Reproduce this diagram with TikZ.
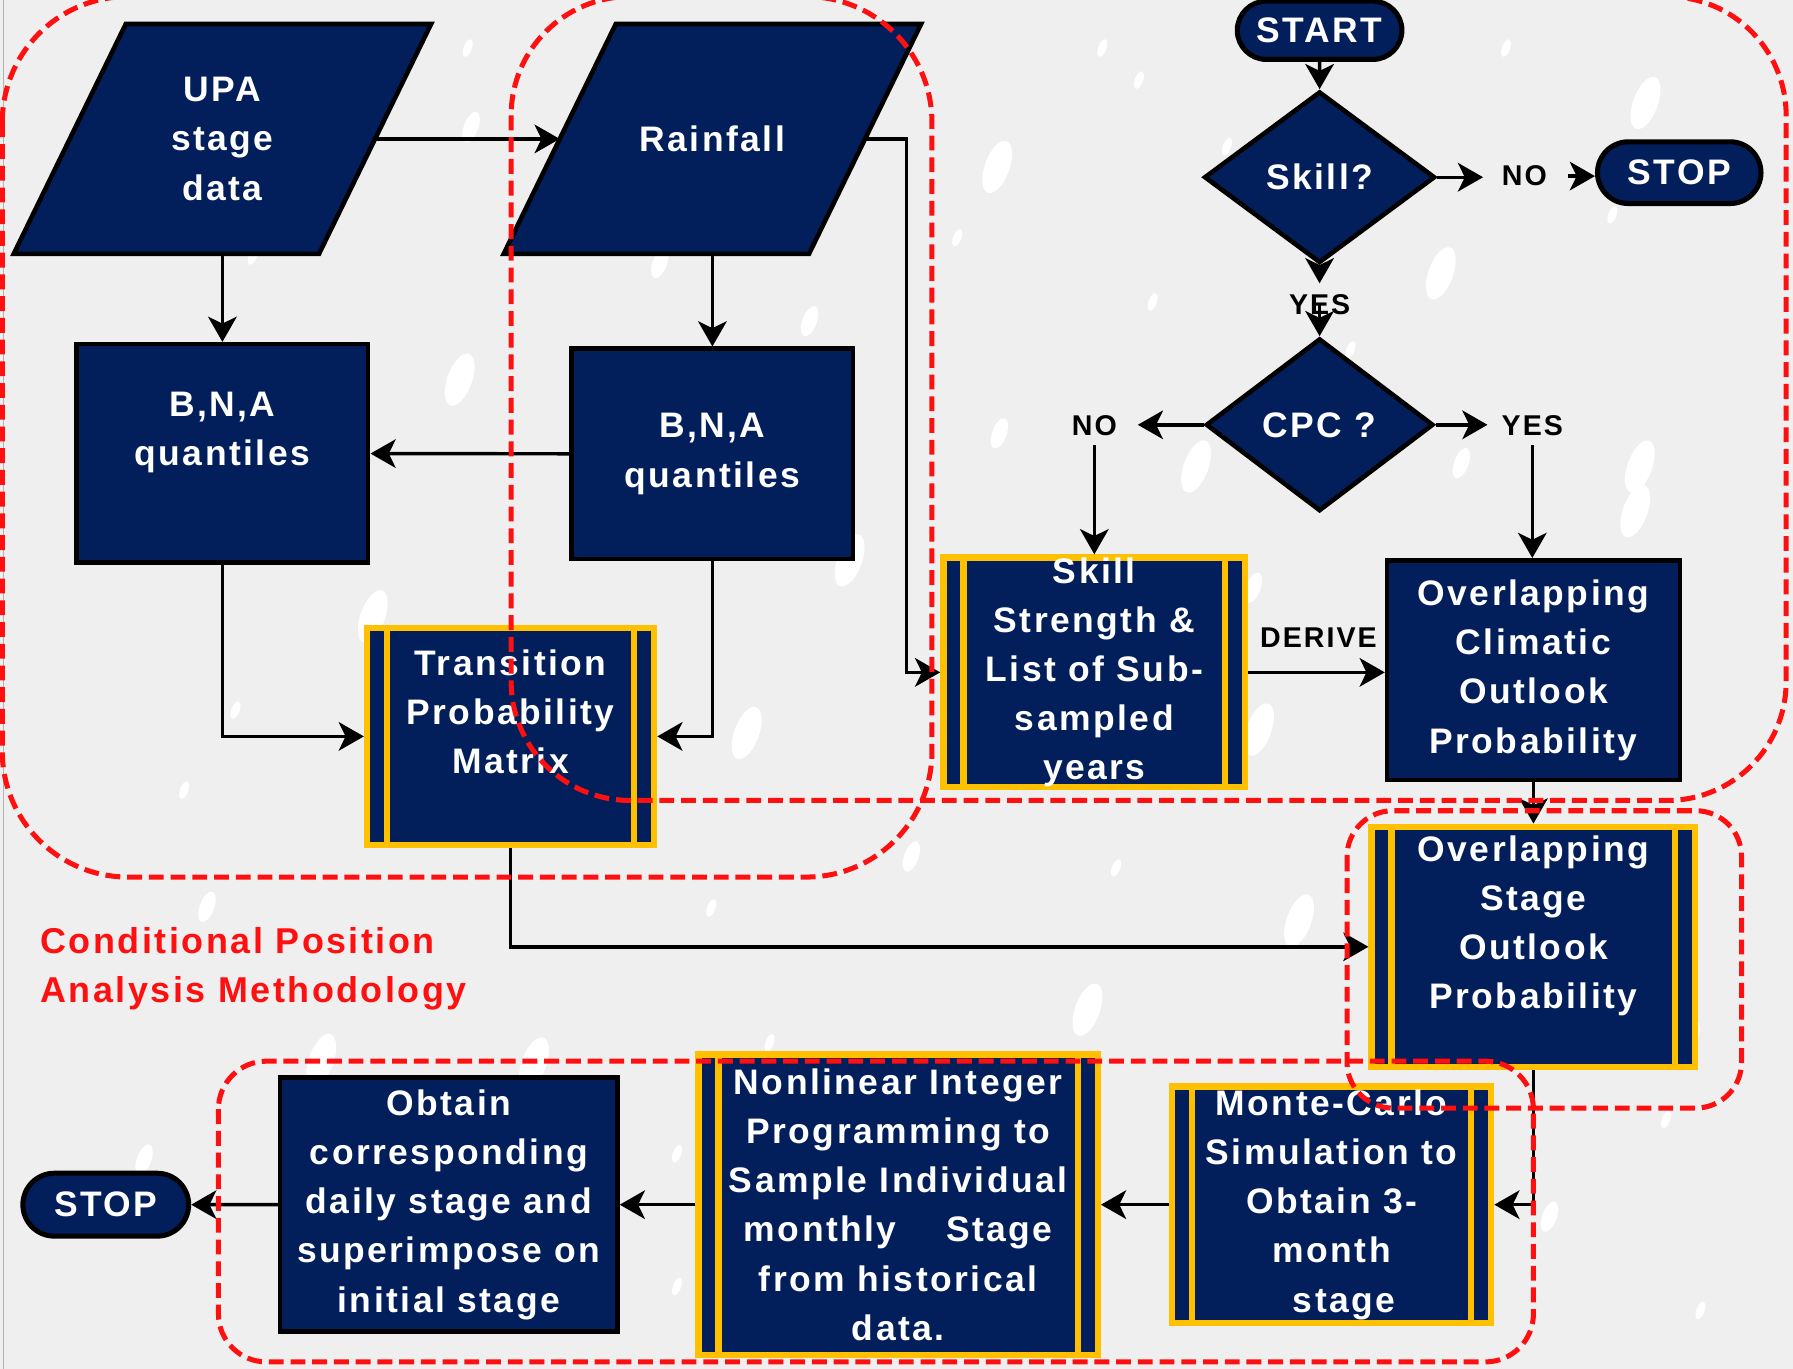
\documentclass[tikz,border=0pt]{standalone}
\usepackage{fontspec}
\setmainfont{Liberation Sans}[LetterSpace=7]
\usepackage{tikz}
\usetikzlibrary{shapes.geometric,shapes.misc,arrows.meta,positioning,backgrounds}
\definecolor{navy}{HTML}{021F5C}
\definecolor{gold}{HTML}{FFC000}
\definecolor{cpared}{HTML}{FF1010}
\definecolor{paper}{HTML}{EFEFEF}
\newcommand{\BoxFont}{\fontsize{15.5}{21.5}\selectfont\bfseries}
\newcommand{\TagFont}{\fontsize{12.5}{15}\selectfont\bfseries}
\newcommand{\NoteFont}{\fontsize{15.7}{21.5}\selectfont\bfseries}

\begin{document}
\begin{tikzpicture}[x=0.5pt,y=-0.5pt,
    boxbase/.style={draw=black,line width=2pt,fill=navy,text=white,font=\BoxFont,align=center,inner sep=0pt},
    datain/.style={boxbase,rectangle,draw=none,fill=none,minimum width=131.5pt,minimum height=98.5pt},
    slantbox/.style={draw=black,line width=2pt,fill=navy},
    stepbox/.style={boxbase,rectangle},
    decide/.style={boxbase,diamond},
    endcap/.style={boxbase,rounded rectangle,line width=2.2pt},
    subproc/.style={boxbase,rectangle,draw=gold,line width=2.8pt,
      path picture={
        \draw[gold,line width=2.8pt]
          ([xshift=8.75pt]path picture bounding box.north west) -- ([xshift=8.75pt]path picture bounding box.south west)
          ([xshift=-8.75pt]path picture bounding box.north east) -- ([xshift=-8.75pt]path picture bounding box.south east);}},
    answer/.style={font=\TagFont,text=black,inner sep=1pt},
    flow/.style={draw=black,line width=1.5pt,-{Stealth[length=11pt,width=12.5pt,inset=3pt]}},
    zone/.style={draw=cpared,line width=2.2pt,dash pattern=on 6.5pt off 3pt}]
  \useasboundingbox (0,0) rectangle (1568,1197);
  \begin{scope}[on background layer]
    \fill[paper] (0,0) rectangle (1568,1197);
    \draw[gray!60,line width=0.6pt] (3,0) -- (3,1197);
    % raindrops on the backdrop
    \foreach \x/\y/\r in {409/42/8,412/111/14,221/224/8,577/230/14,708/281/14,402/332/24,964/42/8,996/70/8,
        872/146/24,1317/42/8,1439/90/24,837/208/8,1073/128/8,1260/239/24,1008/264/8,1410/188/8,874/379/14,
        1278/405/14,1046/408/24,1434/408/24,1181/306/8,326/539/24,653/641/24,206/621/8,181/793/14,622/794/8,
        161/691/8,743/490/24,1430/447/24,1096/514/14,1101/638/24,797/749/14,976/759/8,1136/805/24,951/883/24,
        1479/906/14,281/927/24,467/930/24,592/1009/8,592/1125/8,673/912/8,126/1014/14,1355/1064/14,1457/979/8,1487/1146/8}
      \fill[white,rotate around={-20:(\x,\y)}] (\x,\y) ellipse ({0.45*\r} and \r);
  \end{scope}

  % inputs and quantiles
  \node[datain] (upa) at (194.5,121.5) {UPA\\stage\\data};
  \node[datain] (rain) at (623,121.5) {Rainfall};
  \begin{scope}[on background layer]
    \foreach \n in {upa,rain}
      \draw[slantbox] ([xshift=-24.5pt]\n.south west) -- ([xshift=-24.5pt]\n.south east)
        -- ([xshift=24.5pt]\n.north east) -- ([xshift=24.5pt]\n.north west) -- cycle;
  \end{scope}
  \node[stepbox,minimum width=127.5pt,minimum height=95.5pt] (bnal) at (194.5,396.5) {B,N,A\\quantiles\\\mbox{}};
  \node[stepbox,minimum width=123pt,minimum height=92pt] (bnar) at (623,397) {B,N,A\\quantiles};
  \node[subproc,minimum width=125.5pt,minimum height=95pt] (tpm) at (446.5,644) {Transition\\Probability\\Matrix\\\mbox{}};

  % decision chain
  \node[endcap,minimum width=72pt,minimum height=25.5pt] (start) at (1154,26.5) {START};
  \node[decide,minimum width=101pt,minimum height=75pt] (skill) at (1154,155) {Skill?};
  \node[endcap,minimum width=71.5pt,minimum height=27pt] (stopa) at (1468.5,151) {STOP};
  \node[decide,minimum width=99.5pt,minimum height=75.5pt] (cpc) at (1154,371.5) {CPC ?};
  \node[subproc,minimum width=132pt,minimum height=100pt] (sss) at (957,588) {Skill\\Strength \&\\List of Sub-\\sampled\\years};
  \node[stepbox,minimum width=128pt,minimum height=96pt] (ocop) at (1341,586) {Overlapping\\Climatic\\Outlook\\Probability};
  \node[subproc,minimum width=141.5pt,minimum height=105pt] (osop) at (1341,828) {Overlapping\\Stage\\Outlook\\Probability\\\mbox{}};

  % bottom row
  \node[subproc,minimum width=139.5pt,minimum height=103.5pt] (mcs) at (1164.5,1053.5) {Monte-Carlo\\Simulation to\\Obtain 3-\\month\\\hspace*{11pt}stage};
  \node[subproc,minimum width=174.5pt,minimum height=131.5pt] (nip) at (785.5,1053.5) {Nonlinear Integer\\Programming to\\Sample Individual\\monthly\ \ \ \ Stage\\from historical\\data.};
  \node[stepbox,minimum width=147.5pt,minimum height=111pt] (obt) at (392.5,1053.5) {Obtain\\corresponding\\daily stage and\\superimpose on\\initial stage};
  \node[endcap,minimum width=72.5pt,minimum height=27.5pt] (stopb) at (92.5,1053.5) {STOP};

  % answers
  \node[answer] (noa) at (1333,154) {NO};
  \node[answer] (yesa) at (1154,266) {YES};
  \node[answer] (nob) at (957,372) {NO};
  \node[answer] (yesb) at (1340,372) {YES};
  \node[answer] (derive) at (1153,558) {DERIVE};

  \draw[flow] (upa) -- (rain);
  \draw[flow] (upa) -- (bnal);
  \draw[flow] (rain) -- (bnar);
  \draw[flow] (bnar) -- (bnal);
  \draw[flow] (bnal.south) |- (tpm.west);
  \draw[flow] (bnar.south) |- (tpm.east);
  \draw[flow] (rain.east) -- ([xshift=18pt]rain.east) |- (sss.west);
  \draw[flow] (start) -- (skill);
  \draw[flow,shorten >=7pt] (skill.east) -- (skill.east -| noa.west);
  \draw[flow,shorten <=8pt] (noa.east) -- (noa.east -| stopa.west);
  \draw[flow,shorten >=3.5pt] (skill) -- (yesa);
  \draw[flow] (yesa.center) -- (cpc);
  \draw[flow,shorten >=8pt] (cpc.west) -- (cpc.west -| nob.east);
  \draw[flow,shorten >=5pt] (cpc.east) -- (cpc.east -| yesb.west);
  \draw[flow,shorten <=3pt] (nob) -- (sss);
  \draw[flow,shorten <=3pt] (yesb.south) -- (yesb.south |- ocop.north);
  \draw[flow] (sss.east) -- (sss.east -| ocop.west);
  \draw[flow] (ocop) -- (osop);
  \draw[flow] (tpm.south) |- (osop.west);
  \draw[flow] (osop.south) |- (mcs.east);
  \draw[flow] (mcs) -- (nip);
  \draw[flow] (nip) -- (obt);
  \draw[flow] (obt) -- (stopb);

  % dashed groupings
  \draw[zone,rounded corners=55pt] (2,-3) rectangle (815,767);
  \draw[zone,rounded corners=52pt] (447,-3) rectangle (1562,700);
  \draw[zone,rounded corners=20pt] (1178,709) rectangle (1523,969);
  \draw[zone,rounded corners=21pt] (191,928) rectangle (1341,1191);
  \node[text=cpared,font=\NoteFont,align=left,anchor=west,inner sep=0pt] (cpam) at (35,847.5) {Conditional Position\\Analysis Methodology};
\end{tikzpicture}
\end{document}
